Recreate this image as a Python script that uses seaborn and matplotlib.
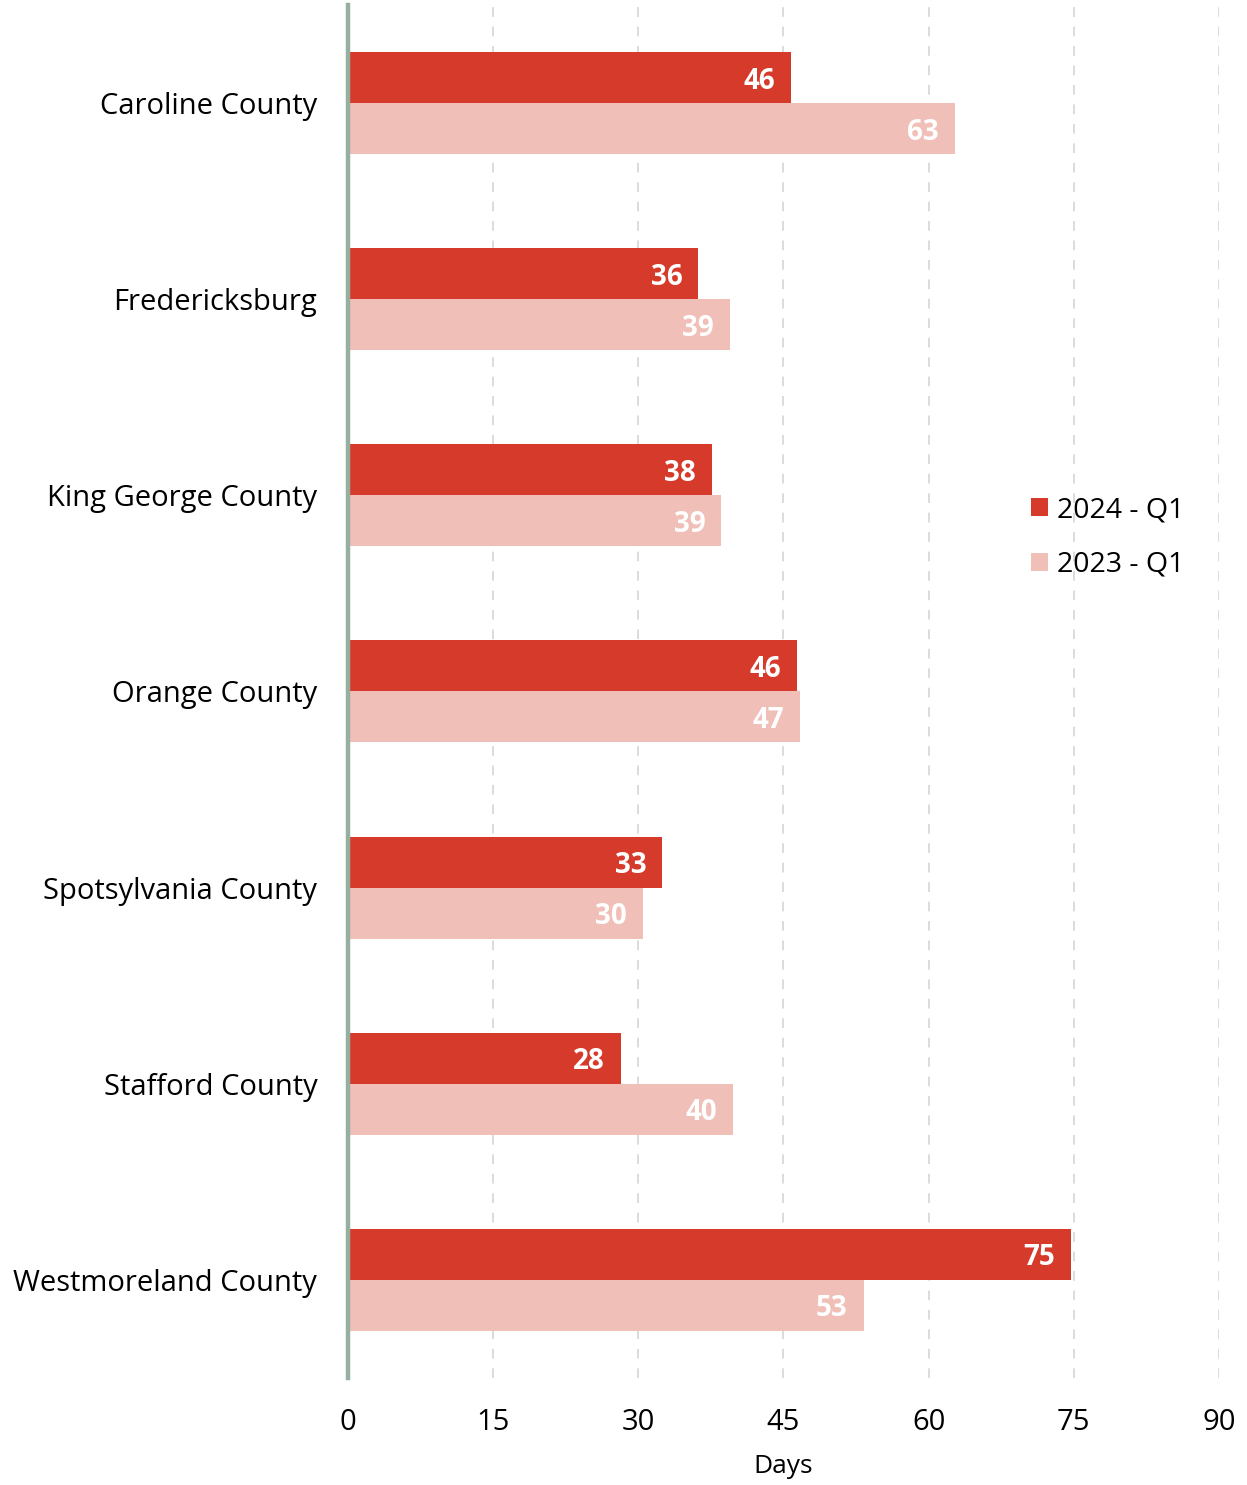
import matplotlib.pyplot as plt
import seaborn as sns
import pandas as pd

# valores (dias)
condados = ['Caroline County', 'Fredericksburg', 'King George County', 'Orange County',
            'Spotsylvania County', 'Stafford County', 'Westmoreland County']
dias_2024 = [45.8, 36.2, 37.6, 46.4, 32.5, 28.2, 74.7]
dias_2023 = [62.7, 39.5, 38.6, 46.7, 30.5, 39.8, 53.3]
etiquetas_2024 = ['46', '36', '38', '46', '33', '28', '75']
etiquetas_2023 = ['63', '39', '39', '47', '30', '40', '53']
series = ['2024 - Q1', '2023 - Q1']
colores = ['#D63A2A', '#F0BFB8']
ticks_x = [0, 15, 30, 45, 60, 75, 90]

df = pd.concat([
    pd.DataFrame({'condado': condados, 'dias': dias_2024, 'serie': series[0]}),
    pd.DataFrame({'condado': condados, 'dias': dias_2023, 'serie': series[1]}),
], ignore_index=True)

sns.set_style('white')
plt.rcParams['font.family'] = ['Open Sans', 'DejaVu Sans']
plt.rcParams['text.color'] = 'black'
plt.rcParams['xtick.color'] = 'black'
plt.rcParams['ytick.color'] = 'black'
plt.rcParams['axes.labelcolor'] = 'black'

fig = plt.figure(figsize=(12.47, 14.85), dpi=100)
ax = fig.add_axes([0.279, 0.0721, 0.6985, 0.9245])

sns.barplot(data=df, y='condado', x='dias', hue='serie', order=condados,
            hue_order=series, palette=colores, orient='h', width=0.52, gap=0,
            saturation=1, linewidth=0, ax=ax, legend=True)

for cont, etiquetas in zip(ax.containers, [etiquetas_2024, etiquetas_2023]):
    textos = ax.bar_label(cont, labels=etiquetas, padding=-11.5, color='white',
                          fontsize=20, fontweight='bold')
    for t in textos:
        t.set_ha('right')
        t.set_va('center_baseline')

ax.set_xlim(0, 90)
ax.set_ylim(6.5, -0.5)
ax.set_xticks(ticks_x)
ax.grid(axis='x', color='#dcdcdc', linestyle=(0, (5, 5)), linewidth=1.4)
ax.grid(axis='y', visible=False)
ax.set_axisbelow(True)

for lado in ['top', 'right', 'bottom']:
    ax.spines[lado].set_visible(False)
ax.spines['left'].set_color('#95AFA0')
ax.spines['left'].set_linewidth(3.2)
ax.spines['left'].set_zorder(5)

ax.tick_params(axis='y', length=0, pad=22, labelsize=21)
ax.tick_params(axis='x', length=0, pad=22, labelsize=21)
ax.set_ylabel('')
ax.set_xlabel('Days', fontsize=19, labelpad=12)

ax.legend(loc='center left', bbox_to_anchor=(0.771, 0.612), frameon=False, fontsize=20.5,
          handlelength=0.6, handleheight=0.6, handletextpad=0.32, labelspacing=0.93,
          borderaxespad=0)

plt.savefig('out.png', dpi=100)
